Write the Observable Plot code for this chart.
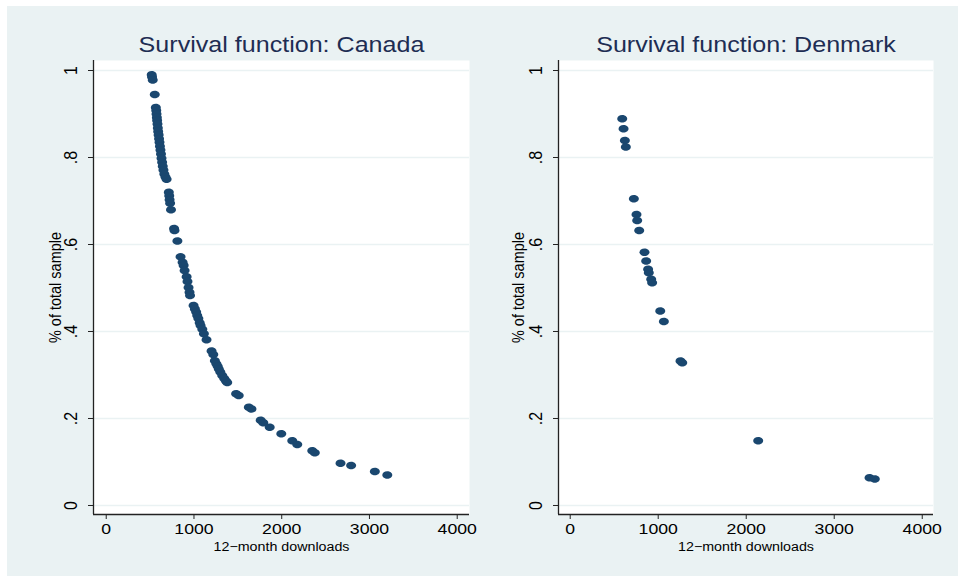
<!DOCTYPE html>
<html>
<head>
<meta charset="utf-8">
<script src="https://cdn.jsdelivr.net/npm/d3@7"></script>
<script src="https://cdn.jsdelivr.net/npm/@observablehq/plot@0.6"></script>
<style>
  html, body { margin: 0; padding: 0; background: #ffffff; }
  #wrap { position: relative; width: 958px; height: 576px; overflow: hidden; }
  #bg { position: absolute; left: 7px; top: 6px; width: 951px; height: 570px; background: #EAF2F3; }
  .panel { position: absolute; top: 0; }
</style>
</head>
<body>
<div id="wrap"><div id="bg"></div></div>
<script>
// ---- Data ----
const canadaDownloads = [518, 522, 530, 553,
  565, 570, 573, 577, 580, 584, 588, 592, 597, 602, 607, 612, 618, 624, 630, 637, 644, 652, 662, 675, 688,
  713, 718, 722, 728, 738, 773, 778, 811,
  847, 870, 882, 893, 916, 926, 938, 949, 955,
  995, 1010, 1025, 1037, 1050, 1065, 1075, 1095, 1113, 1143,
  1200, 1220, 1238, 1255, 1270, 1283, 1300, 1322, 1345, 1365, 1379,
  1480, 1510, 1625, 1655, 1760, 1790, 1863, 1995, 2120, 2177, 2348, 2377, 2670, 2791, 3061, 3203];
const canadaSurvival = [0.990, 0.985, 0.978, 0.945,
  0.915, 0.908, 0.900, 0.892, 0.885, 0.877, 0.868, 0.860, 0.852, 0.843, 0.835, 0.826, 0.817, 0.808, 0.798, 0.789, 0.780, 0.771, 0.762, 0.755, 0.750,
  0.720, 0.712, 0.703, 0.695, 0.680, 0.637, 0.632, 0.608,
  0.572, 0.559, 0.552, 0.540, 0.526, 0.515, 0.501, 0.490, 0.483,
  0.460, 0.452, 0.445, 0.437, 0.430, 0.420, 0.414, 0.405, 0.395, 0.381,
  0.355, 0.347, 0.333, 0.326, 0.320, 0.314, 0.307, 0.299, 0.292, 0.286, 0.283,
  0.257, 0.253, 0.226, 0.222, 0.196, 0.190, 0.180, 0.165, 0.149, 0.140, 0.126, 0.121, 0.097, 0.092, 0.078, 0.070];

const denmarkDownloads = [591, 606, 621, 632, 723, 753, 761, 784, 844, 863, 885, 893, 920, 931, 1023, 1064, 1253, 1273, 2136, 3401, 3461];
const denmarkSurvival  = [0.889, 0.866, 0.839, 0.824, 0.705, 0.669, 0.655, 0.632, 0.582, 0.562, 0.543, 0.535, 0.520, 0.512, 0.447, 0.423, 0.332, 0.328, 0.149, 0.064, 0.061];

const panelTitles = ["Survival function: Canada", "Survival function: Denmark"];
const xTicks = [0, 1000, 2000, 3000, 4000];
const yTicks = [0, 0.2, 0.4, 0.6, 0.8, 1];
const yTickLabels = ["0", ".2", ".4", ".6", ".8", "1"];
const yTitle = "% of total sample";
const xTitle = "12\u2212month downloads";

// ---- Styling ----
const markerColor = "#1A476F";
const titleColor = "#1E2D53";
const gridColor = "#EAF2F3";
const axisColor = "#222222";
const font = "'Liberation Sans', Arial, Helvetica, sans-serif";
const stretch = 1.14; // the reference's lettering is horizontally widened

// elliptical marker (Stata markers look slightly wide)
const ellipse = {
  draw(context, size) {
    const r = Math.sqrt(size / Math.PI);
    const rx = r * 1.16, ry = r * 0.875, k = 0.5523;
    context.moveTo(rx, 0);
    context.bezierCurveTo(rx, k * ry, k * rx, ry, 0, ry);
    context.bezierCurveTo(-k * rx, ry, -rx, k * ry, -rx, 0);
    context.bezierCurveTo(-rx, -k * ry, -k * rx, -ry, 0, -ry);
    context.bezierCurveTo(k * rx, -ry, rx, -k * ry, rx, 0);
    context.closePath();
  }
};

const yDomain = [-0.0207, 1.023];
const panels = [
  {left: 0, marginLeft: 93, marginRight: 10, xDomain: [-145, 4140], yLabDx: -38,
   x: canadaDownloads, y: canadaSurvival, title: panelTitles[0]},
  {left: 479, marginLeft: 79, marginRight: 25, xDomain: [-133, 4128], yLabDx: -40,
   x: denmarkDownloads, y: denmarkSurvival, title: panelTitles[1]}
];

const wrap = document.getElementById("wrap");
panels.forEach(p => {
  const data = p.x.map((v, i) => ({downloads: v, survival: p.y[i]}));
  const svg = Plot.plot({
    width: 479, height: 576,
    marginLeft: p.marginLeft, marginRight: p.marginRight, marginTop: 60, marginBottom: 62,
    style: {background: "transparent", fontFamily: font, color: "#000", overflow: "visible"},
    x: {domain: p.xDomain},
    y: {domain: yDomain},
    marks: [
      Plot.frame({fill: "white", stroke: null}),
      Plot.gridY(yTicks, {stroke: gridColor, strokeOpacity: 1, strokeWidth: 1.5}),
      Plot.dot(data, {x: "downloads", y: "survival", r: 4.3, fill: markerColor, stroke: null, symbol: ellipse}),
      Plot.axisY(yTicks, {tickSize: 5, tickFormat: () => "", label: null, stroke: axisColor}),
      Plot.axisX(xTicks, {tickSize: 5, tickPadding: 3, fontSize: 15.5, label: null, stroke: axisColor, fill: "#000", tickFormat: d => String(d)}),
      Plot.ruleX([p.xDomain[0]], {stroke: axisColor, strokeWidth: 1.3}),
      Plot.ruleY([yDomain[0]], {stroke: axisColor, strokeWidth: 1.3}),
      Plot.text(yTicks, {y: d => d, text: (d, i) => yTickLabels[i], frameAnchor: "left", textAnchor: "middle", lineAnchor: "middle",
        dx: -22, rotate: -90, fontSize: 16, fill: "#000"}),
      Plot.text([p.title], {text: d => d, frameAnchor: "top", textAnchor: "middle", lineAnchor: "middle", dy: -15.5, fontSize: 22, fill: titleColor}),
      Plot.text([yTitle], {text: d => d, frameAnchor: "left", textAnchor: "middle", lineAnchor: "middle", dx: p.yLabDx, rotate: -90, fontSize: 14.5, fill: "#000"}),
      Plot.text([xTitle], {text: d => d, frameAnchor: "bottom", textAnchor: "middle", lineAnchor: "middle", dy: 32.5, fontSize: 12.5, fill: "#000"})
    ]
  });
  svg.classList.add("panel");
  svg.style.left = p.left + "px";
  wrap.appendChild(svg);
  // widen the lettering horizontally, as in the reference
  svg.querySelectorAll("text").forEach(t => {
    const tr = t.getAttribute("transform") || "";
    if (tr.includes("rotate")) {
      // rotated text: local y axis maps to screen x, so stretch its thickness
      t.setAttribute("transform", tr + ` scale(1,${stretch})`);
      return;
    }
    const len = t.getComputedTextLength();
    if (len > 0) {
      t.setAttribute("textLength", (len * stretch).toFixed(1));
      t.setAttribute("lengthAdjust", "spacingAndGlyphs");
    }
  });
});
</script>
</body>
</html>
